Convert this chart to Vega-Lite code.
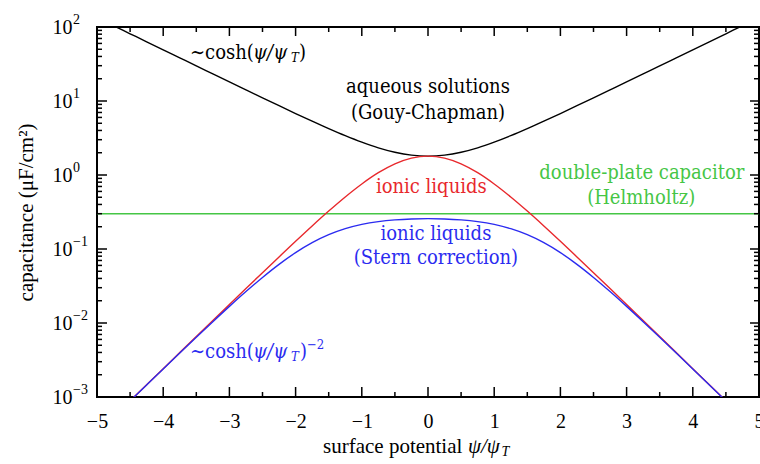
{
  "$schema": "https://vega.github.io/schema/vega-lite/v6.json",
  "width": 662,
  "height": 370,
  "autosize": {"type": "none"},
  "padding": {"left": 97, "top": 27, "right": 1, "bottom": 67},
  "background": "white",
  "config": {
    "view": {"stroke": "black", "strokeWidth": 2},
    "axis": {
      "grid": false,
      "domain": false,
      "ticks": false,
      "labelFont": "Liberation Serif",
      "labelFontSize": 20,
      "labelColor": "black",
      "labelOverlap": false,
      "labelFlush": false,
      "titleFont": "Liberation Serif",
      "titleFontWeight": "normal",
      "titleFontSize": 21,
      "titleColor": "black"
    },
    "text": {"font": "DejaVu Serif Condensed", "fontSize": 20}
  },
  "datasets": {
    "curves": [
      {"x": -5, "s": "H", "c": 0.3}, {"x": 5, "s": "H", "c": 0.3},
      {"x": -5, "s": "GC", "c": 133.58}, {"x": -4.75, "s": "GC", "c": 104.03}, {"x": -4.5, "s": "GC", "c": 81.03}, {"x": -4.25, "s": "GC", "c": 63.11}, {"x": -4, "s": "GC", "c": 49.15}, {"x": -3.75, "s": "GC", "c": 38.29}, {"x": -3.5, "s": "GC", "c": 29.83}, {"x": -3.25, "s": "GC", "c": 23.25}, {"x": -3, "s": "GC", "c": 18.12}, {"x": -2.75, "s": "GC", "c": 14.14}, {"x": -2.5, "s": "GC", "c": 11.04}, {"x": -2.25, "s": "GC", "c": 8.634}, {"x": -2, "s": "GC", "c": 6.772}, {"x": -1.75, "s": "GC", "c": 5.336}, {"x": -1.5, "s": "GC", "c": 4.234}, {"x": -1.25, "s": "GC", "c": 3.399}, {"x": -1, "s": "GC", "c": 2.778}, {"x": -0.75, "s": "GC", "c": 2.33}, {"x": -0.5, "s": "GC", "c": 2.03}, {"x": -0.25, "s": "GC", "c": 1.857},
      {"x": 0, "s": "GC", "c": 1.8},
      {"x": 0.25, "s": "GC", "c": 1.857}, {"x": 0.5, "s": "GC", "c": 2.03}, {"x": 0.75, "s": "GC", "c": 2.33}, {"x": 1, "s": "GC", "c": 2.778}, {"x": 1.25, "s": "GC", "c": 3.399}, {"x": 1.5, "s": "GC", "c": 4.234}, {"x": 1.75, "s": "GC", "c": 5.336}, {"x": 2, "s": "GC", "c": 6.772}, {"x": 2.25, "s": "GC", "c": 8.634}, {"x": 2.5, "s": "GC", "c": 11.04}, {"x": 2.75, "s": "GC", "c": 14.14}, {"x": 3, "s": "GC", "c": 18.12}, {"x": 3.25, "s": "GC", "c": 23.25}, {"x": 3.5, "s": "GC", "c": 29.83}, {"x": 3.75, "s": "GC", "c": 38.29}, {"x": 4, "s": "GC", "c": 49.15}, {"x": 4.25, "s": "GC", "c": 63.11}, {"x": 4.5, "s": "GC", "c": 81.03}, {"x": 4.75, "s": "GC", "c": 104.03}, {"x": 5, "s": "GC", "c": 133.58},
      {"x": -5, "s": "IL", "c": 0.000327}, {"x": -4.75, "s": "IL", "c": 0.000539}, {"x": -4.5, "s": "IL", "c": 0.000888}, {"x": -4.25, "s": "IL", "c": 0.001464}, {"x": -4, "s": "IL", "c": 0.002414}, {"x": -3.75, "s": "IL", "c": 0.003978}, {"x": -3.5, "s": "IL", "c": 0.006554}, {"x": -3.25, "s": "IL", "c": 0.010792}, {"x": -3, "s": "IL", "c": 0.017759}, {"x": -2.75, "s": "IL", "c": 0.029186}, {"x": -2.5, "s": "IL", "c": 0.047866}, {"x": -2.25, "s": "IL", "c": 0.078237}, {"x": -2, "s": "IL", "c": 0.12717}, {"x": -1.75, "s": "IL", "c": 0.20486}, {"x": -1.5, "s": "IL", "c": 0.32527}, {"x": -1.25, "s": "IL", "c": 0.50475}, {"x": -1, "s": "IL", "c": 0.75596}, {"x": -0.75, "s": "IL", "c": 1.07385}, {"x": -0.5, "s": "IL", "c": 1.41561}, {"x": -0.25, "s": "IL", "c": 1.692},
      {"x": 0, "s": "IL", "c": 1.8},
      {"x": 0.25, "s": "IL", "c": 1.692}, {"x": 0.5, "s": "IL", "c": 1.41561}, {"x": 0.75, "s": "IL", "c": 1.07385}, {"x": 1, "s": "IL", "c": 0.75596}, {"x": 1.25, "s": "IL", "c": 0.50475}, {"x": 1.5, "s": "IL", "c": 0.32527}, {"x": 1.75, "s": "IL", "c": 0.20486}, {"x": 2, "s": "IL", "c": 0.12717}, {"x": 2.25, "s": "IL", "c": 0.078237}, {"x": 2.5, "s": "IL", "c": 0.047866}, {"x": 2.75, "s": "IL", "c": 0.029186}, {"x": 3, "s": "IL", "c": 0.017759}, {"x": 3.25, "s": "IL", "c": 0.010792}, {"x": 3.5, "s": "IL", "c": 0.006554}, {"x": 3.75, "s": "IL", "c": 0.003978}, {"x": 4, "s": "IL", "c": 0.002414}, {"x": 4.25, "s": "IL", "c": 0.001464}, {"x": 4.5, "s": "IL", "c": 0.000888}, {"x": 4.75, "s": "IL", "c": 0.000539}, {"x": 5, "s": "IL", "c": 0.000327},
      {"x": -5, "s": "ILS", "c": 0.000326}, {"x": -4.75, "s": "ILS", "c": 0.000538}, {"x": -4.5, "s": "ILS", "c": 0.000886}, {"x": -4.25, "s": "ILS", "c": 0.001457}, {"x": -4, "s": "ILS", "c": 0.002394}, {"x": -3.75, "s": "ILS", "c": 0.003926}, {"x": -3.5, "s": "ILS", "c": 0.006414}, {"x": -3.25, "s": "ILS", "c": 0.010418}, {"x": -3, "s": "ILS", "c": 0.016766}, {"x": -2.75, "s": "ILS", "c": 0.026598}, {"x": -2.5, "s": "ILS", "c": 0.04128}, {"x": -2.25, "s": "ILS", "c": 0.062054}, {"x": -2, "s": "ILS", "c": 0.089312}, {"x": -1.75, "s": "ILS", "c": 0.12173}, {"x": -1.5, "s": "ILS", "c": 0.15606}, {"x": -1.25, "s": "ILS", "c": 0.18816}, {"x": -1, "s": "ILS", "c": 0.21477}, {"x": -0.75, "s": "ILS", "c": 0.23449}, {"x": -0.5, "s": "ILS", "c": 0.24754}, {"x": -0.25, "s": "ILS", "c": 0.25482},
      {"x": 0, "s": "ILS", "c": 0.25714},
      {"x": 0.25, "s": "ILS", "c": 0.25482}, {"x": 0.5, "s": "ILS", "c": 0.24754}, {"x": 0.75, "s": "ILS", "c": 0.23449}, {"x": 1, "s": "ILS", "c": 0.21477}, {"x": 1.25, "s": "ILS", "c": 0.18816}, {"x": 1.5, "s": "ILS", "c": 0.15606}, {"x": 1.75, "s": "ILS", "c": 0.12173}, {"x": 2, "s": "ILS", "c": 0.089312}, {"x": 2.25, "s": "ILS", "c": 0.062054}, {"x": 2.5, "s": "ILS", "c": 0.04128}, {"x": 2.75, "s": "ILS", "c": 0.026598}, {"x": 3, "s": "ILS", "c": 0.016766}, {"x": 3.25, "s": "ILS", "c": 0.010418}, {"x": 3.5, "s": "ILS", "c": 0.006414}, {"x": 3.75, "s": "ILS", "c": 0.003926}, {"x": 4, "s": "ILS", "c": 0.002394}, {"x": 4.25, "s": "ILS", "c": 0.001457}, {"x": 4.5, "s": "ILS", "c": 0.000886}, {"x": 4.75, "s": "ILS", "c": 0.000538}, {"x": 5, "s": "ILS", "c": 0.000326}
    ],
    "labels": [
      {"x": 0, "c": 15.5, "s": "GC", "t": "aqueous solutions"},
      {"x": 0, "c": 6.9, "s": "GC", "t": "(Gouy-Chapman)"},
      {"x": 0.05, "c": 0.695, "s": "IL", "t": "ionic liquids"},
      {"x": 3.23, "c": 1.065, "s": "H", "t": "double-plate capacitor"},
      {"x": 3.22, "c": 0.489, "s": "H", "t": "(Helmholtz)"},
      {"x": 0.12, "c": 0.1596, "s": "ILS", "t": "ionic liquids"},
      {"x": 0.12, "c": 0.0755, "s": "ILS", "t": "(Stern correction)"}
    ],
    "formula": [
      {"x": -3.595, "c": 44.6, "s": "GC", "t": "∼cosh("},
      {"x": -1.949, "c": 44.6, "s": "GC", "t": ")"},
      {"x": -3.595, "c": 0.00409, "s": "ILS", "t": "∼cosh("},
      {"x": -1.934, "c": 0.00409, "s": "ILS", "t": ")"}
    ],
    "formulaItalic": [
      {"x": -2.644, "c": 44.6, "s": "GC", "t": "ψ/ψ"},
      {"x": -2.644, "c": 0.00409, "s": "ILS", "t": "ψ/ψ"}
    ],
    "formulaSub": [
      {"x": -2.069, "c": 44.6, "s": "GC", "t": "T"},
      {"x": -2.069, "c": 0.00409, "s": "ILS", "t": "T"}
    ],
    "formulaSup": [
      {"x": -1.828, "c": 0.00409, "s": "ILS", "t": "−2"}
    ],
    "decades": [
      {"c": 100, "e": "2"}, {"c": 10, "e": "1"}, {"c": 1, "e": "0"},
      {"c": 0.1, "e": "−1"}, {"c": 0.01, "e": "−2"}, {"c": 0.001, "e": "−3"}
    ],
    "xMajor": [{"v": -5}, {"v": -4}, {"v": -3}, {"v": -2}, {"v": -1}, {"v": 0}, {"v": 1}, {"v": 2}, {"v": 3}, {"v": 4}, {"v": 5}],
    "xMinor": [{"v": -4.5}, {"v": -3.5}, {"v": -2.5}, {"v": -1.5}, {"v": -0.5}, {"v": 0.5}, {"v": 1.5}, {"v": 2.5}, {"v": 3.5}, {"v": 4.5}],
    "yMajor": [{"v": 0.001}, {"v": 0.01}, {"v": 0.1}, {"v": 1}, {"v": 10}, {"v": 100}],
    "yMinor": [
      {"v": 0.002}, {"v": 0.003}, {"v": 0.004}, {"v": 0.005}, {"v": 0.006}, {"v": 0.007}, {"v": 0.008}, {"v": 0.009},
      {"v": 0.02}, {"v": 0.03}, {"v": 0.04}, {"v": 0.05}, {"v": 0.06}, {"v": 0.07}, {"v": 0.08}, {"v": 0.09},
      {"v": 0.2}, {"v": 0.3}, {"v": 0.4}, {"v": 0.5}, {"v": 0.6}, {"v": 0.7}, {"v": 0.8}, {"v": 0.9},
      {"v": 2}, {"v": 3}, {"v": 4}, {"v": 5}, {"v": 6}, {"v": 7}, {"v": 8}, {"v": 9},
      {"v": 20}, {"v": 30}, {"v": 40}, {"v": 50}, {"v": 60}, {"v": 70}, {"v": 80}, {"v": 90}
    ],
    "xTitle": [{"x": -1.586, "t": "surface potential"}],
    "xTitleItalic": [{"x": 0.604, "t": "ψ/ψ"}],
    "xTitleSub": [{"x": 1.11, "t": "T"}]
  },
  "layer": [
    {
      "data": {"name": "curves"},
      "mark": {"type": "line", "clip": true, "strokeWidth": 1.4, "interpolate": "monotone"},
      "encoding": {
        "x": {
          "field": "x", "type": "quantitative",
          "scale": {"domain": [-5, 5], "nice": false, "zero": false},
          "axis": {
            "orient": "bottom",
            "values": [-5, -4, -3, -2, -1, 0, 1, 2, 3, 4, 5],
            "format": "d",
            "labelPadding": 14,
            "title": null
          }
        },
        "y": {
          "field": "c", "type": "quantitative",
          "scale": {"type": "log", "domain": [0.001, 100], "nice": false},
          "axis": {
            "orient": "left",
            "values": [0.001, 0.01, 0.1, 1, 10, 100],
            "labelExpr": "'10'",
            "labelPadding": 25,
            "title": "capacitance (μF/cm²)",
            "titlePadding": 16
          }
        },
        "color": {
          "field": "s", "type": "nominal",
          "scale": {"domain": ["GC", "IL", "ILS", "H"], "range": ["#000000", "#e8282c", "#2b2bf0", "#45c645"]},
          "legend": null
        }
      }
    },
    {
      "data": {"name": "xMajor"},
      "mark": {"type": "rule", "color": "#000000", "strokeWidth": 1.5, "opacity": 1},
      "encoding": {"x": {"field": "v", "type": "quantitative"}, "y": {"datum": 0.001}, "y2": {"datum": 0.001365}}
    },
    {
      "data": {"name": "xMajor"},
      "mark": {"type": "rule", "color": "#000000", "strokeWidth": 1.5, "opacity": 1},
      "encoding": {"x": {"field": "v", "type": "quantitative"}, "y": {"datum": 100}, "y2": {"datum": 75.57}}
    },
    {
      "data": {"name": "xMinor"},
      "mark": {"type": "rule", "color": "#000000", "strokeWidth": 1.5, "opacity": 1},
      "encoding": {"x": {"field": "v", "type": "quantitative"}, "y": {"datum": 0.001}, "y2": {"datum": 0.001168}}
    },
    {
      "data": {"name": "xMinor"},
      "mark": {"type": "rule", "color": "#000000", "strokeWidth": 1.5, "opacity": 1},
      "encoding": {"x": {"field": "v", "type": "quantitative"}, "y": {"datum": 100}, "y2": {"datum": 85.57}}
    },
    {
      "data": {"name": "yMajor"},
      "mark": {"type": "rule", "color": "#000000", "strokeWidth": 1.5, "opacity": 1},
      "encoding": {"y": {"field": "v", "type": "quantitative"}, "x": {"datum": -5}, "x2": {"datum": -4.849}}
    },
    {
      "data": {"name": "yMajor"},
      "mark": {"type": "rule", "color": "#000000", "strokeWidth": 1.5, "opacity": 1},
      "encoding": {"y": {"field": "v", "type": "quantitative"}, "x": {"datum": 5}, "x2": {"datum": 4.864}}
    },
    {
      "data": {"name": "yMinor"},
      "mark": {"type": "rule", "color": "#000000", "strokeWidth": 1.5, "opacity": 1},
      "encoding": {"y": {"field": "v", "type": "quantitative"}, "x": {"datum": -5}, "x2": {"datum": -4.9245}}
    },
    {
      "data": {"name": "yMinor"},
      "mark": {"type": "rule", "color": "#000000", "strokeWidth": 1.5, "opacity": 1},
      "encoding": {"y": {"field": "v", "type": "quantitative"}, "x": {"datum": 5}, "x2": {"datum": 4.9245}}
    },
    {
      "data": {"name": "labels"},
      "mark": {"type": "text", "align": "center", "baseline": "middle"},
      "encoding": {
        "x": {"field": "x", "type": "quantitative"},
        "y": {"field": "c", "type": "quantitative"},
        "text": {"field": "t"},
        "color": {"field": "s", "type": "nominal", "legend": null}
      }
    },
    {
      "data": {"name": "formula"},
      "mark": {"type": "text", "align": "left", "baseline": "middle"},
      "encoding": {
        "x": {"field": "x", "type": "quantitative"},
        "y": {"field": "c", "type": "quantitative"},
        "text": {"field": "t"},
        "color": {"field": "s", "type": "nominal", "legend": null}
      }
    },
    {
      "data": {"name": "formulaItalic"},
      "mark": {"type": "text", "align": "left", "baseline": "middle", "fontStyle": "italic"},
      "encoding": {
        "x": {"field": "x", "type": "quantitative"},
        "y": {"field": "c", "type": "quantitative"},
        "text": {"field": "t"},
        "color": {"field": "s", "type": "nominal", "legend": null}
      }
    },
    {
      "data": {"name": "formulaSub"},
      "mark": {"type": "text", "align": "left", "baseline": "middle", "fontStyle": "italic", "fontSize": 13, "dy": 5},
      "encoding": {
        "x": {"field": "x", "type": "quantitative"},
        "y": {"field": "c", "type": "quantitative"},
        "text": {"field": "t"},
        "color": {"field": "s", "type": "nominal", "legend": null}
      }
    },
    {
      "data": {"name": "formulaSup"},
      "mark": {"type": "text", "align": "left", "baseline": "middle", "fontSize": 13, "dy": -7},
      "encoding": {
        "x": {"field": "x", "type": "quantitative"},
        "y": {"field": "c", "type": "quantitative"},
        "text": {"field": "t"},
        "color": {"field": "s", "type": "nominal", "legend": null}
      }
    },
    {
      "data": {"name": "decades"},
      "mark": {"type": "text", "align": "left", "baseline": "middle", "font": "Liberation Serif", "fontSize": 14, "dx": -24, "dy": -7, "color": "black"},
      "encoding": {
        "x": {"datum": -5},
        "y": {"field": "c", "type": "quantitative"},
        "text": {"field": "e"}
      }
    },
    {
      "data": {"name": "xTitle"},
      "mark": {"type": "text", "align": "left", "baseline": "middle", "font": "Liberation Serif", "fontSize": 21, "dy": 50, "color": "black"},
      "encoding": {
        "x": {"field": "x", "type": "quantitative"},
        "y": {"datum": 0.001},
        "text": {"field": "t"}
      }
    },
    {
      "data": {"name": "xTitleItalic"},
      "mark": {"type": "text", "align": "left", "baseline": "middle", "font": "Liberation Serif", "fontStyle": "italic", "fontSize": 21, "dy": 50, "color": "black"},
      "encoding": {
        "x": {"field": "x", "type": "quantitative"},
        "y": {"datum": 0.001},
        "text": {"field": "t"}
      }
    },
    {
      "data": {"name": "xTitleSub"},
      "mark": {"type": "text", "align": "left", "baseline": "middle", "font": "Liberation Serif", "fontStyle": "italic", "fontSize": 14, "dy": 55, "color": "black"},
      "encoding": {
        "x": {"field": "x", "type": "quantitative"},
        "y": {"datum": 0.001},
        "text": {"field": "t"}
      }
    }
  ]
}
